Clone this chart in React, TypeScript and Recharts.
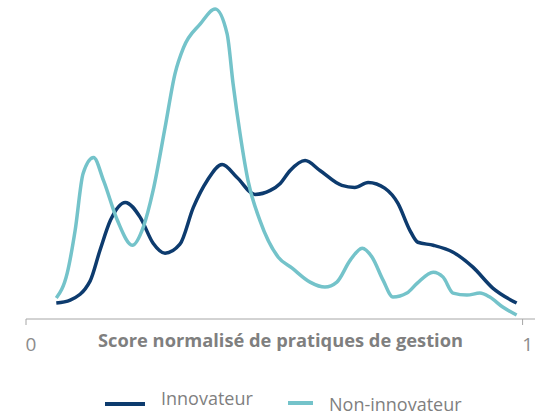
import { Legend, Line, LineChart, XAxis, YAxis } from 'recharts';

// densité par score normalisé
const innovX = [0.061, 0.089, 0.129, 0.149, 0.17, 0.2, 0.23, 0.256, 0.28, 0.31, 0.337, 0.365, 0.395, 0.425, 0.461, 0.492, 0.512, 0.532, 0.562, 0.592, 0.636, 0.662, 0.689, 0.723, 0.749, 0.773, 0.789, 0.82, 0.86, 0.9, 0.94, 0.988];
const innovY = [0.16, 0.19, 0.38, 0.69, 0.99, 1.17, 1.02, 0.76, 0.66, 0.75, 1.12, 1.39, 1.55, 1.42, 1.25, 1.29, 1.36, 1.49, 1.59, 1.49, 1.34, 1.32, 1.37, 1.31, 1.16, 0.89, 0.77, 0.74, 0.67, 0.52, 0.31, 0.16];

const nonInnovX = [0.061, 0.083, 0.099, 0.115, 0.136, 0.156, 0.184, 0.214, 0.236, 0.256, 0.28, 0.3, 0.317, 0.351, 0.381, 0.405, 0.417, 0.431, 0.447, 0.471, 0.508, 0.536, 0.572, 0.602, 0.626, 0.653, 0.677, 0.697, 0.719, 0.739, 0.767, 0.788, 0.82, 0.84, 0.86, 0.888, 0.914, 0.934, 0.96, 0.988];
const nonInnovY = [0.21, 0.46, 0.89, 1.46, 1.62, 1.39, 0.99, 0.74, 0.92, 1.29, 1.92, 2.46, 2.72, 2.96, 3.11, 2.86, 2.36, 1.86, 1.39, 0.99, 0.62, 0.51, 0.37, 0.32, 0.37, 0.59, 0.71, 0.62, 0.39, 0.22, 0.26, 0.36, 0.47, 0.42, 0.26, 0.24, 0.26, 0.22, 0.12, 0.04];

const xTicks = [0, 1];

const innovData = innovX.map((x, i) => ({ x, y: innovY[i] }));
const nonInnovData = nonInnovX.map((x, i) => ({ x, y: nonInnovY[i] }));

const NAVY = '#0d3b6e';
const TEAL = '#74c3ca';
const GREY = '#7f7f7f';
const FONT = '"Open Sans", sans-serif';

const renderTick = (props: any) => {
  const { x, y, payload } = props;
  return (
    <text x={x + 5} y={y} dy={24} textAnchor="middle" fill="#8c8c8c" fontSize={19} fontFamily={FONT}>
      {payload.value}
    </text>
  );
};

const legendItems = [
  { name: 'Innovateur', color: NAVY, left: 105, swatch: 40, textTop: 23, lineTop: 29 },
  { name: 'Non-innovateur', color: TEAL, left: 288, swatch: 25, textTop: 29, lineTop: 28 },
];

const renderLegend = () => (
  <div style={{ position: 'relative', width: 548, height: 40, fontFamily: FONT }}>
    {legendItems.map((it) => (
      <div key={it.name}>
        <div style={{ position: 'absolute', left: it.left, top: it.lineTop - 2, width: it.swatch, height: 4, background: it.color }} />
        <div style={{ position: 'absolute', left: it.left + it.swatch + 16, top: it.textTop - 12, lineHeight: '24px', fontSize: 18, color: GREY }}>
          {it.name}
        </div>
      </div>
    ))}
  </div>
);

export default function App() {
  return (
    <div style={{ position: 'absolute', top: 0, left: 0, width: 548, height: 415, background: '#fff' }}>
      <LineChart width={548} height={415} margin={{ top: 9, right: 13, left: 26, bottom: 0 }}>
        <XAxis
          type="number"
          dataKey="x"
          domain={[0, 1.025]}
          ticks={xTicks}
          height={56}
          stroke="#a6a6a6"
          tickSize={6}
          tick={renderTick}
          allowDuplicatedCategory={false}
          label={{
            value: 'Score normalisé de pratiques de gestion',
            position: 'insideTop',
            offset: 15,
            fill: GREY,
            fontSize: 18.3,
            fontWeight: 700,
            fontFamily: FONT,
          }}
        />
        <YAxis hide type="number" domain={[0, 3.1]} />
        <Legend verticalAlign="bottom" content={renderLegend} wrapperStyle={{ left: 0, width: 548, bottom: 0 }} />
        <Line data={innovData} dataKey="y" name="Innovateur" type="monotone" stroke={NAVY} strokeWidth={3.5} dot={false} isAnimationActive={false} />
        <Line data={nonInnovData} dataKey="y" name="Non-innovateur" type="monotone" stroke={TEAL} strokeWidth={3.5} dot={false} isAnimationActive={false} />
      </LineChart>
    </div>
  );
}
